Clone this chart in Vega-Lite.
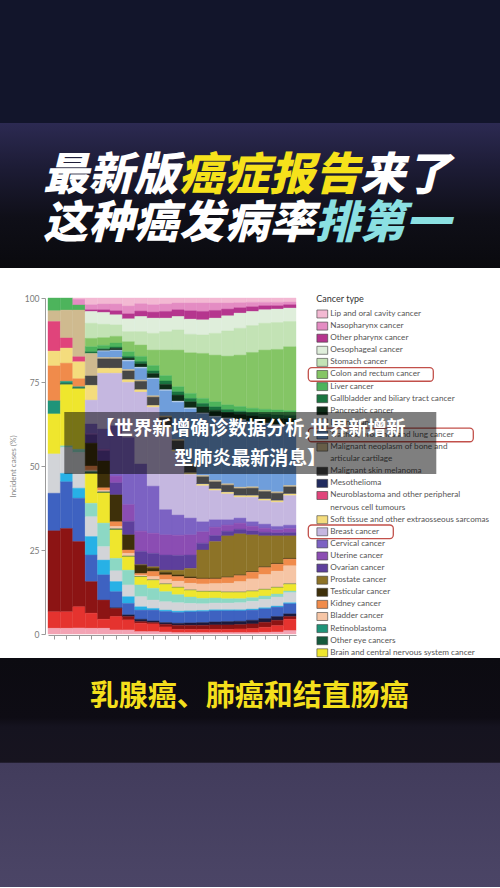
{
  "$schema": "https://vega.github.io/schema/vega-lite/v6.json",
  "background": "#ffffff",
  "padding": 0,
  "spacing": 0,
  "config": {"view": {"stroke": null}, "font": "Lato"},
  "datasets": {
    "headline": [
      {"line": 1, "k": 1, "ch": "最", "tone": "plain"},
      {"line": 1, "k": 2, "ch": "新", "tone": "plain"},
      {"line": 1, "k": 3, "ch": "版", "tone": "plain"},
      {"line": 1, "k": 4, "ch": "癌", "tone": "topic"},
      {"line": 1, "k": 5, "ch": "症", "tone": "topic"},
      {"line": 1, "k": 6, "ch": "报", "tone": "topic"},
      {"line": 1, "k": 7, "ch": "告", "tone": "topic"},
      {"line": 1, "k": 8, "ch": "来", "tone": "plain"},
      {"line": 1, "k": 9, "ch": "了", "tone": "plain"},
      {"line": 2, "k": 1, "ch": "这", "tone": "plain"},
      {"line": 2, "k": 2, "ch": "种", "tone": "plain"},
      {"line": 2, "k": 3, "ch": "癌", "tone": "plain"},
      {"line": 2, "k": 4, "ch": "发", "tone": "plain"},
      {"line": 2, "k": 5, "ch": "病", "tone": "plain"},
      {"line": 2, "k": 6, "ch": "率", "tone": "plain"},
      {"line": 2, "k": 7, "ch": "排", "tone": "rank"},
      {"line": 2, "k": 8, "ch": "第", "tone": "rank"},
      {"line": 2, "k": 9, "ch": "一", "tone": "rank"}
    ],
    "types": [
      {"c": "lip", "idx": 1, "name": "Lip and oral cavity cancer"},
      {"c": "naso", "idx": 2, "name": "Nasopharynx cancer"},
      {"c": "oph", "idx": 3, "name": "Other pharynx cancer"},
      {"c": "oeso", "idx": 4, "name": "Oesophageal cancer"},
      {"c": "stom", "idx": 5, "name": "Stomach cancer"},
      {"c": "colon", "idx": 6, "name": "Colon and rectum cancer", "focus": true},
      {"c": "liver", "idx": 7, "name": "Liver cancer"},
      {"c": "gall", "idx": 8, "name": "Gallbladder and biliary tract cancer"},
      {"c": "panc", "idx": 9, "name": "Pancreatic cancer"},
      {"c": "larynx", "idx": 10, "name": "Larynx cancer"},
      {"c": "lung", "idx": 11, "name": "Trachea, bronchus and lung cancer", "focus": true},
      {"c": "bone", "idx": 12, "name": "Malignant neoplasm of bone and articular cartilage", "l1": "Malignant neoplasm of bone and", "l2": "articular cartilage"},
      {"c": "mel", "idx": 13, "name": "Malignant skin melanoma"},
      {"c": "meso", "idx": 14, "name": "Mesothelioma"},
      {"c": "neuro", "idx": 15, "name": "Neuroblastoma and other peripheral nervous cell tumours", "l1": "Neuroblastoma and other peripheral", "l2": "nervous cell tumours"},
      {"c": "soft", "idx": 16, "name": "Soft tissue and other extraosseous sarcomas"},
      {"c": "breast", "idx": 17, "name": "Breast cancer", "focus": true},
      {"c": "cerv", "idx": 18, "name": "Cervical cancer"},
      {"c": "uter", "idx": 19, "name": "Uterine cancer"},
      {"c": "ovar", "idx": 20, "name": "Ovarian cancer"},
      {"c": "prost", "idx": 21, "name": "Prostate cancer"},
      {"c": "testic", "idx": 22, "name": "Testicular cancer"},
      {"c": "kidney", "idx": 23, "name": "Kidney cancer"},
      {"c": "bladder", "idx": 24, "name": "Bladder cancer"},
      {"c": "retino", "idx": 25, "name": "Retinoblastoma"},
      {"c": "oeye", "idx": 26, "name": "Other eye cancers"},
      {"c": "brain", "idx": 27, "name": "Brain and central nervous system cancer"},
      {"c": "thy", "idx": 28, "name": "Thyroid cancer"},
      {"c": "oth", "idx": 29, "name": "Other malignant neoplasms"},
      {"c": "hod", "idx": 30, "name": "Hodgkin lymphoma"},
      {"c": "nhl", "idx": 31, "name": "Non-Hodgkin lymphoma"},
      {"c": "mm", "idx": 32, "name": "Multiple myeloma"},
      {"c": "leu", "idx": 33, "name": "Leukaemia"},
      {"c": "omn", "idx": 34, "name": "Other neoplasms"},
      {"c": "nmsc", "idx": 35, "name": "Non-melanoma skin cancer"}
    ],
    "ages": [
      {"a": 1, "nmsc": 1.7, "omn": 4.9, "leu": 24.1, "nhl": 11.2, "oth": 11.7, "brain": 11.9, "retino": 3.9, "kidney": 10.4, "soft": 4.4, "neuro": 8.8, "bone": 3.2, "liver": 3.8},
      {"a": 2, "nmsc": 1.7, "omn": 4.9, "leu": 24.8, "nhl": 13.9, "hod": 2.5, "oth": 7.7, "thy": 0.5, "brain": 18.2, "oeye": 0.4, "retino": 0.6, "kidney": 5.4, "soft": 4.5, "neuro": 3, "bone": 8.3, "liver": 3.6},
      {"a": 3, "nmsc": 1.8, "omn": 6.3, "leu": 19.4, "nhl": 12.9, "hod": 3, "oth": 10.6, "thy": 1, "brain": 18, "oeye": 0.3, "retino": 0.3, "kidney": 2.4, "soft": 5, "neuro": 1.5, "bone": 13.9, "liver": 1.5, "naso": 1.7, "lip": 0.4},
      {"a": 4, "nmsc": 1.7, "omn": 4.5, "leu": 9.4, "nhl": 7.9, "hod": 5.5, "oth": 5.9, "thy": 4, "brain": 8.9, "oeye": 0.3, "retino": 0.2, "bladder": 0.5, "kidney": 1.2, "testic": 6.8, "ovar": 2.5, "uter": 0.3, "cerv": 2.9, "breast": 7.1, "soft": 4.4, "mel": 2.8, "bone": 6.7, "gall": 0.5, "liver": 1.5, "colon": 2.5, "stom": 4.5, "oeso": 3.5, "oph": 0.5, "naso": 1.5, "lip": 2},
      {"a": 5, "nmsc": 1.7, "omn": 2.7, "leu": 5.7, "nhl": 7.5, "hod": 4.4, "oth": 4, "thy": 7, "brain": 9, "oeye": 0.3, "bladder": 0.4, "kidney": 0.8, "testic": 8, "ovar": 3, "uter": 0.5, "cerv": 6, "breast": 16.6, "soft": 1.5, "mel": 2.8, "bone": 0.4, "lung": 1.8, "larynx": 0.2, "panc": 0.3, "gall": 0.3, "liver": 1, "colon": 2.3, "stom": 4, "oeso": 3.5, "oph": 0.8, "naso": 1.7, "lip": 1.8},
      {"a": 6, "nmsc": 1.2, "omn": 4, "leu": 2.4, "mm": 0.2, "nhl": 4.8, "hod": 3, "oth": 3.2, "thy": 3.7, "brain": 8.5, "oeye": 0.3, "bladder": 0.7, "kidney": 1.4, "testic": 8, "ovar": 3.6, "uter": 2, "cerv": 15, "breast": 15.6, "soft": 1.5, "mel": 2.8, "bone": 0.4, "lung": 2, "larynx": 0.2, "panc": 0.5, "gall": 0.4, "liver": 1.2, "colon": 2, "stom": 3.4, "oeso": 3, "oph": 1.2, "naso": 2, "lip": 1.8},
      {"a": 7, "nmsc": 1.2, "omn": 3, "leu": 1, "mm": 0.5, "nhl": 3.4, "hod": 2, "oth": 3.5, "thy": 4.4, "brain": 4, "oeye": 0.2, "bladder": 0.8, "kidney": 1, "testic": 4.5, "ovar": 4, "uter": 5, "cerv": 20, "breast": 16.4, "soft": 0.8, "mel": 2.6, "bone": 0.4, "lung": 2.5, "larynx": 0.3, "panc": 0.6, "gall": 0.5, "liver": 1.4, "colon": 3, "stom": 3, "oeso": 3.8, "oph": 1.5, "naso": 2.3, "lip": 2.4},
      {"a": 8, "nmsc": 0.7, "omn": 2.5, "leu": 0.5, "mm": 0.7, "nhl": 2.7, "hod": 1, "oth": 3, "thy": 3.5, "brain": 2.4, "oeye": 0.1, "bladder": 0.4, "kidney": 0.5, "testic": 2.5, "prost": 0.1, "ovar": 4, "uter": 6, "cerv": 20, "breast": 21.4, "soft": 0.7, "mel": 2.5, "bone": 0.4, "lung": 3.5, "larynx": 0.3, "panc": 1, "gall": 0.7, "liver": 1.5, "colon": 3.4, "stom": 4, "oeso": 4.5, "oph": 1.6, "naso": 2.2, "lip": 1.7},
      {"a": 9, "nmsc": 0.7, "omn": 2.3, "leu": 0.4, "mm": 0.5, "nhl": 3.2, "hod": 0.5, "oth": 2.5, "thy": 3.5, "brain": 2.4, "oeye": 0.1, "bladder": 1, "kidney": 1.5, "testic": 1, "prost": 0.4, "ovar": 4, "uter": 6, "cerv": 14, "breast": 23.5, "soft": 0.5, "mel": 2.5, "bone": 0.4, "lung": 5, "larynx": 0.3, "panc": 1.3, "gall": 0.8, "liver": 1.6, "colon": 4.6, "stom": 5, "oeso": 4.5, "oph": 1.8, "naso": 2.2, "lip": 2},
      {"a": 10, "nmsc": 0.6, "omn": 1.5, "leu": 0.8, "mm": 0.5, "nhl": 3.3, "hod": 0.4, "oth": 2.5, "thy": 3, "brain": 2.2, "oeye": 0.1, "bladder": 1.3, "kidney": 1.4, "testic": 0.7, "prost": 0.7, "ovar": 4.5, "uter": 6, "cerv": 7.5, "breast": 24.3, "soft": 0.5, "meso": 0.2, "mel": 2.5, "bone": 0.4, "lung": 7.5, "larynx": 0.3, "panc": 1.6, "gall": 1, "liver": 1.6, "colon": 7.6, "stom": 5.5, "oeso": 4, "oph": 2, "naso": 2.2, "lip": 1.8},
      {"a": 11, "nmsc": 0.4, "omn": 1, "leu": 1.2, "mm": 0.6, "nhl": 3.2, "hod": 0.4, "oth": 2.5, "thy": 2.4, "brain": 2.1, "oeye": 0.1, "bladder": 1.8, "kidney": 1.4, "testic": 0.5, "prost": 1.4, "ovar": 4.4, "uter": 6, "cerv": 6, "breast": 18.9, "soft": 0.5, "meso": 0.2, "mel": 2.5, "bone": 0.4, "lung": 11.1, "larynx": 0.3, "panc": 1.8, "gall": 1, "liver": 1.5, "colon": 10.9, "stom": 6, "oeso": 4, "oph": 2, "naso": 2, "lip": 1.5},
      {"a": 12, "nmsc": 0.4, "omn": 1, "leu": 1.2, "mm": 0.7, "nhl": 3.3, "hod": 0.3, "oth": 2.2, "thy": 1.9, "brain": 2, "oeye": 0.1, "bladder": 2, "kidney": 1.5, "testic": 0.4, "prost": 2.5, "ovar": 4, "uter": 6, "cerv": 5, "breast": 13, "soft": 0.5, "meso": 0.2, "mel": 2.1, "bone": 0.4, "lung": 16.3, "larynx": 0.3, "panc": 1.8, "gall": 1, "liver": 1.5, "colon": 12.1, "stom": 5.5, "oeso": 4.5, "oph": 2.5, "naso": 2.3, "lip": 1.5},
      {"a": 13, "nmsc": 0.4, "omn": 1, "leu": 1.2, "mm": 0.8, "nhl": 3.3, "hod": 0.3, "oth": 2, "thy": 1.6, "brain": 2, "oeye": 0.1, "bladder": 2.2, "kidney": 1.5, "testic": 0.2, "prost": 8.4, "ovar": 2, "uter": 3.4, "cerv": 3, "breast": 10.7, "soft": 0.5, "meso": 0.2, "mel": 2, "bone": 0.4, "lung": 18.3, "larynx": 0.3, "panc": 1.8, "gall": 1, "liver": 1.5, "colon": 13.4, "stom": 5.5, "oeso": 4.5, "oph": 2.5, "naso": 2.5, "lip": 1.5},
      {"a": 14, "nmsc": 0.4, "omn": 1, "leu": 1.3, "mm": 0.9, "nhl": 3.3, "hod": 0.3, "oth": 2, "thy": 1.5, "brain": 1.9, "oeye": 0.1, "bladder": 2.3, "kidney": 1.4, "testic": 0.2, "prost": 10.9, "ovar": 1.8, "uter": 2.5, "cerv": 2.2, "breast": 8.7, "soft": 0.5, "meso": 0.2, "mel": 1.9, "bone": 0.4, "lung": 18.8, "larynx": 0.3, "panc": 1.8, "gall": 1, "liver": 1.5, "colon": 13.9, "stom": 6.5, "oeso": 4.5, "oph": 2.3, "naso": 2.2, "lip": 1.5},
      {"a": 15, "nmsc": 0.4, "omn": 1, "leu": 1.3, "mm": 1, "nhl": 3.2, "hod": 0.3, "oth": 2, "thy": 1.3, "brain": 1.9, "oeye": 0.1, "bladder": 2.6, "kidney": 1.7, "testic": 0.2, "prost": 12.2, "ovar": 1.4, "uter": 1.8, "cerv": 1.6, "breast": 7.7, "soft": 0.5, "meso": 0.2, "mel": 1.9, "bone": 0.4, "lung": 19.3, "larynx": 0.3, "panc": 1.6, "gall": 0.9, "liver": 1.4, "colon": 14.5, "stom": 7.5, "oeso": 4.5, "oph": 2, "naso": 1.8, "lip": 1.5},
      {"a": 16, "nmsc": 0.4, "omn": 1.1, "leu": 1.3, "mm": 1, "nhl": 3.1, "hod": 0.3, "oth": 2.1, "thy": 1.2, "brain": 1.9, "oeye": 0.1, "bladder": 3.1, "kidney": 1.8, "testic": 0.2, "prost": 12.2, "ovar": 1.4, "uter": 1.8, "cerv": 1.5, "breast": 6.2, "soft": 0.5, "meso": 0.2, "mel": 1.9, "bone": 0.4, "lung": 19.8, "larynx": 0.3, "panc": 1.6, "gall": 0.9, "liver": 1.4, "colon": 15.3, "stom": 8, "oeso": 4.5, "oph": 1.6, "naso": 1.5, "lip": 1.4},
      {"a": 17, "nmsc": 0.4, "omn": 1.2, "leu": 1.4, "mm": 1.1, "nhl": 3, "hod": 0.3, "oth": 2.3, "thy": 1.1, "brain": 1.9, "oeye": 0.1, "bladder": 3.6, "kidney": 2, "testic": 0.2, "prost": 10.9, "ovar": 1.2, "uter": 1.4, "cerv": 1.3, "breast": 7.3, "soft": 0.5, "meso": 0.2, "mel": 2, "bone": 0.4, "lung": 19.2, "larynx": 0.3, "panc": 1.6, "gall": 0.9, "liver": 1.4, "colon": 16.6, "stom": 8, "oeso": 4.2, "oph": 1.4, "naso": 1.3, "lip": 1.3},
      {"a": 18, "nmsc": 0.5, "omn": 1.5, "leu": 1.5, "mm": 1.1, "nhl": 2.9, "hod": 0.3, "oth": 2.5, "thy": 1, "brain": 1.9, "oeye": 0.1, "bladder": 4.4, "kidney": 2.1, "testic": 0.2, "prost": 9.2, "ovar": 1.1, "uter": 1.2, "cerv": 1.2, "breast": 7, "soft": 0.5, "meso": 0.2, "mel": 2, "bone": 0.4, "lung": 19.7, "larynx": 0.3, "panc": 1.7, "gall": 1, "liver": 1.4, "colon": 17.6, "stom": 8, "oeso": 4, "oph": 1.2, "naso": 1, "lip": 1.3},
      {"a": 19, "nmsc": 0.6, "omn": 1.9, "leu": 1.6, "mm": 1.1, "nhl": 2.8, "hod": 0.3, "oth": 2.7, "thy": 0.9, "brain": 1.9, "oeye": 0.1, "bladder": 4.8, "kidney": 2.1, "testic": 0.2, "prost": 8.2, "ovar": 0.9, "uter": 0.9, "cerv": 1, "breast": 7.2, "soft": 0.5, "meso": 0.2, "mel": 2, "bone": 0.4, "lung": 19.7, "larynx": 0.3, "panc": 1.8, "gall": 1.1, "liver": 1.5, "colon": 18, "stom": 8, "oeso": 4, "oph": 1, "naso": 1, "lip": 1.3},
      {"a": 20, "nmsc": 1, "omn": 3.4, "leu": 0.8, "mm": 0.8, "nhl": 3, "hod": 0.3, "oth": 3, "thy": 0.5, "brain": 2, "oeye": 0.1, "bladder": 5.4, "kidney": 2, "testic": 0.2, "prost": 6.7, "ovar": 1, "uter": 1.2, "cerv": 1, "breast": 8.8, "soft": 0.5, "meso": 0.2, "mel": 1.9, "bone": 0.4, "lung": 17.8, "larynx": 0.3, "panc": 1.8, "gall": 1, "liver": 1.4, "colon": 19, "stom": 7.5, "oeso": 4, "oph": 1, "naso": 0.8, "lip": 1.2}
    ]
  },
  "vconcat": [
    {
      "width": 452,
      "height": 123,
      "data": {"values": [{}]},
      "mark": {"type": "rect", "color": "#12152b"},
      "encoding": {
        "x": {"value": -48},
        "x2": {"value": "width"},
        "y": {"value": 0},
        "y2": {"value": "height"}
      }
    },
    {
      "spacing": 26,
      "vconcat": [
        {
          "width": 452,
          "height": 145,
          "layer": [
            {
              "data": {"values": [{}]},
              "mark": {"type": "rect", "color": {"gradient": "linear", "x1": 0, "y1": 0, "x2": 0, "y2": 1, "stops": [
                {"offset": 0, "color": "#2c2a52"},
                {"offset": 0.3, "color": "#1d1c36"},
                {"offset": 0.65, "color": "#0f0f18"},
                {"offset": 1, "color": "#0a0a0e"}
              ]}},
              "encoding": {
                "x": {"value": -48},
                "x2": {"value": "width"},
                "y": {"value": 0},
                "y2": {"value": "height"}
              }
            },
            {
              "data": {"name": "headline"},
              "mark": {"type": "text", "fontSize": 45, "fontWeight": 900, "fontStyle": "italic", "font": "Noto Sans CJK SC", "baseline": "middle", "align": "center"},
              "encoding": {
                "x": {"field": "k", "type": "ordinal", "scale": {"type": "point", "padding": 0.99, "align": 0.195}, "axis": null},
                "y": {"field": "line", "type": "ordinal", "scale": {"type": "point", "padding": 1, "align": 0.544}, "axis": null},
                "text": {"field": "ch"},
                "fill": {"field": "tone", "type": "nominal", "scale": {"domain": ["plain", "topic", "rank"], "range": ["#ffffff", "#f6e21b", "#8be0e2"]}, "legend": null}
              }
            }
          ]
        },
        {
          "bounds": "flush",
          "spacing": 12.3,
          "hconcat": [
            {
              "width": 248,
              "height": 336,
              "data": {"name": "ages"},
              "transform": [
                {"fold": ["lip","naso","oph","oeso","stom","colon","liver","gall","panc","larynx","lung","bone","mel","meso","neuro","soft","breast","cerv","uter","ovar","prost","testic","kidney","bladder","retino","oeye","brain","thy","oth","hod","nhl","mm","leu","omn","nmsc"], "as": ["c", "v"]},
                {"filter": "isValid(datum.v) && datum.v > 0"},
                {"lookup": "c", "from": {"data": {"name": "types"}, "key": "c", "fields": ["idx"]}}
              ],
              "mark": {"type": "bar", "strokeWidth": 0.4},
              "encoding": {
                "x": {"field": "a", "type": "ordinal", "scale": {"paddingInner": 0, "paddingOuter": 0},
                  "axis": {"labels": false, "title": null, "tickSize": 4, "tickColor": "#9a9a9a", "domainColor": "#9a9a9a", "offset": 1, "grid": false}},
                "y": {"field": "v", "type": "quantitative", "stack": "normalize", "scale": {"domain": [0, 1], "nice": false},
                  "axis": {"values": [0, 0.25, 0.5, 0.75, 1], "labelExpr": "format(datum.value * 100, 'd')", "title": "Incident cases (%)",
                    "titleFontSize": 8, "titleFontWeight": "normal", "titleColor": "#8a8a8a", "titlePadding": 7,
                    "labelFontSize": 8.5, "labelColor": "#7a7a7a", "labelPadding": 2, "tickSize": 4, "tickColor": "#9a9a9a",
                    "domainColor": "#9a9a9a", "offset": 3, "grid": false}},
                "color": {"field": "c", "type": "nominal", "legend": null, "scale": {
                  "domain": ["lip","naso","oph","oeso","stom","colon","liver","gall","panc","larynx","lung","bone","mel","meso","neuro","soft","breast","cerv","uter","ovar","prost","testic","kidney","bladder","retino","oeye","brain","thy","oth","hod","nhl","mm","leu","omn","nmsc"],
                  "range": ["#f3b9d3","#e48cc3","#b5358e","#dfeedb","#c3e3b5","#84c565","#4db45c","#1a7540","#0e2c17","#c4daf0","#6f9edb","#cfba8f","#474747","#202a5e","#e0447b","#f4dc7d","#c5b7e0","#7c62c3","#8b4db3","#5d3f9c","#8d7327","#3e300a","#f08b4b","#f6c5a5","#1f9479","#14593c","#efe62d","#8cd8c4","#d2d4d8","#27b1e6","#3e62c1","#1c1b3d","#8c1414","#e5332f","#f3a3b4"]}},
                "stroke": {"field": "c", "type": "nominal", "legend": null, "scale": {
                  "domain": ["lip","naso","oph","oeso","stom","colon","liver","gall","panc","larynx","lung","bone","mel","meso","neuro","soft","breast","cerv","uter","ovar","prost","testic","kidney","bladder","retino","oeye","brain","thy","oth","hod","nhl","mm","leu","omn","nmsc"],
                  "range": ["#f3b9d3","#e48cc3","#b5358e","#dfeedb","#c3e3b5","#84c565","#4db45c","#1a7540","#0e2c17","#c4daf0","#6f9edb","#cfba8f","#474747","#202a5e","#e0447b","#f4dc7d","#c5b7e0","#7c62c3","#8b4db3","#5d3f9c","#8d7327","#3e300a","#f08b4b","#f6c5a5","#1f9479","#14593c","#efe62d","#8cd8c4","#d2d4d8","#27b1e6","#3e62c1","#1c1b3d","#8c1414","#e5332f","#f3a3b4"]}},
                "order": {"field": "idx", "type": "quantitative", "sort": "descending"}
              }
            },
            {
              "width": 190,
              "height": 360,
              "data": {"name": "types"},
              "transform": [
                {"filter": "datum.idx <= 27"},
                {"calculate": "datum.l2 ? 2 : 1", "as": "nl"},
                {"window": [{"op": "sum", "field": "nl", "as": "cum"}], "sort": [{"field": "idx", "order": "ascending"}]},
                {"calculate": "datum.cum - datum.nl", "as": "ln"},
                {"calculate": "datum.l1 ? datum.l1 : datum.name", "as": "t1"}
              ],
              "layer": [
                {
                  "transform": [
                    {"filter": "datum.focus"},
                    {"calculate": "datum.ln - 0.56", "as": "b0"},
                    {"calculate": "datum.ln + 0.56", "as": "b1"},
                    {"calculate": "33 + 4 * length(datum.t1)", "as": "bw"}
                  ],
                  "mark": {"type": "rect", "filled": false, "stroke": "#c2504a", "strokeWidth": 1.3, "cornerRadius": 3.5},
                  "encoding": {
                    "x": {"field": "bw", "type": "quantitative", "scale": {"domain": [0, 190], "nice": false, "zero": false}, "axis": null},
                    "x2": {"datum": 0},
                    "y": {"field": "b0", "type": "quantitative", "scale": {"domain": [-1.322, 28.43], "reverse": true, "nice": false, "zero": false}, "axis": null},
                    "y2": {"field": "b1"}
                  }
                },
                {
                  "mark": {"type": "point", "shape": "M-1.35,-1H1.35V1H-1.35Z", "size": 64, "filled": true, "stroke": "#3c3c3c", "strokeWidth": 0.6, "opacity": 1},
                  "encoding": {
                    "x": {"datum": 14, "type": "quantitative", "scale": {"domain": [0, 190], "nice": false, "zero": false}, "axis": null},
                    "y": {"field": "ln", "type": "quantitative", "scale": {"domain": [-1.322, 28.43], "reverse": true, "nice": false, "zero": false}, "axis": null},
                    "color": {"field": "c", "type": "nominal", "legend": null, "scale": {
                      "domain": ["lip","naso","oph","oeso","stom","colon","liver","gall","panc","larynx","lung","bone","mel","meso","neuro","soft","breast","cerv","uter","ovar","prost","testic","kidney","bladder","retino","oeye","brain","thy","oth","hod","nhl","mm","leu","omn","nmsc"],
                      "range": ["#f3b9d3","#e48cc3","#b5358e","#dfeedb","#c3e3b5","#84c565","#4db45c","#1a7540","#0e2c17","#c4daf0","#6f9edb","#cfba8f","#474747","#202a5e","#e0447b","#f4dc7d","#c5b7e0","#7c62c3","#8b4db3","#5d3f9c","#8d7327","#3e300a","#f08b4b","#f6c5a5","#1f9479","#14593c","#efe62d","#8cd8c4","#d2d4d8","#27b1e6","#3e62c1","#1c1b3d","#8c1414","#e5332f","#f3a3b4"]}}
                  }
                },
                {
                  "mark": {"type": "text", "align": "left", "baseline": "middle", "fontSize": 8.2, "color": "#555555", "limit": 168, "font": "Lato"},
                  "encoding": {
                    "x": {"datum": 22, "type": "quantitative", "scale": {"domain": [0, 190], "nice": false, "zero": false}, "axis": null},
                    "y": {"field": "ln", "type": "quantitative", "scale": {"domain": [-1.322, 28.43], "reverse": true, "nice": false, "zero": false}, "axis": null},
                    "text": {"field": "t1"}
                  }
                },
                {
                  "transform": [{"filter": "datum.l2"}, {"calculate": "datum.ln + 1", "as": "ln2"}],
                  "mark": {"type": "text", "align": "left", "baseline": "middle", "fontSize": 8.2, "color": "#555555", "limit": 168, "font": "Lato"},
                  "encoding": {
                    "x": {"datum": 22, "type": "quantitative", "scale": {"domain": [0, 190], "nice": false, "zero": false}, "axis": null},
                    "y": {"field": "ln2", "type": "quantitative", "scale": {"domain": [-1.322, 28.43], "reverse": true, "nice": false, "zero": false}, "axis": null},
                    "text": {"field": "l2"}
                  }
                },
                {
                  "data": {"values": [{"t": "Cancer type"}]},
                  "mark": {"type": "text", "align": "left", "baseline": "middle", "fontSize": 9, "color": "#333333", "font": "Lato"},
                  "encoding": {
                    "x": {"datum": 8, "type": "quantitative", "scale": {"domain": [0, 190], "nice": false, "zero": false}, "axis": null},
                    "y": {"datum": -1.24, "type": "quantitative", "scale": {"domain": [-1.322, 28.43], "reverse": true, "nice": false, "zero": false}, "axis": null},
                    "text": {"field": "t"}
                  }
                },
                {
                  "data": {"values": [{}]},
                  "mark": {"type": "rect", "color": "#000000", "opacity": 0.5},
                  "encoding": {
                    "x": {"datum": -244, "type": "quantitative", "scale": {"domain": [0, 190], "nice": false, "zero": false}, "axis": null},
                    "x2": {"datum": 128},
                    "y": {"datum": 8.1, "type": "quantitative", "scale": {"domain": [-1.322, 28.43], "reverse": true, "nice": false, "zero": false}, "axis": null},
                    "y2": {"datum": 13.22}
                  }
                },
                {
                  "data": {"values": [{}]},
                  "mark": {"type": "text", "text": ["【世界新增确诊数据分析,世界新增新", "型肺炎最新消息】"], "align": "center", "baseline": "top", "fontSize": 19, "fontWeight": "bold", "color": "#ffffff", "font": "Noto Sans CJK SC", "lineHeight": 30},
                  "encoding": {
                    "x": {"datum": -58, "type": "quantitative", "scale": {"domain": [0, 190], "nice": false, "zero": false}, "axis": null},
                    "y": {"datum": 8.76, "type": "quantitative", "scale": {"domain": [-1.322, 28.43], "reverse": true, "nice": false, "zero": false}, "axis": null}
                  }
                }
              ]
            }
          ]
        }
      ]
    },
    {
      "width": 452,
      "height": 229,
      "layer": [
        {
          "data": {"values": [{}]},
          "mark": {"type": "rect", "color": {"gradient": "linear", "x1": 0, "y1": 0, "x2": 0, "y2": 1, "stops": [
            {"offset": 0, "color": "#0c0b11"},
            {"offset": 0.26, "color": "#0e0c14"},
            {"offset": 0.3, "color": "#15131f"},
            {"offset": 0.455, "color": "#17141f"},
            {"offset": 0.46, "color": "#423c5c"},
            {"offset": 1, "color": "#4b4566"}
          ]}},
          "encoding": {
            "x": {"value": -48},
            "x2": {"value": "width"},
            "y": {"value": 0},
            "y2": {"value": "height"}
          }
        },
        {
          "data": {"values": [{"t": "乳腺癌、肺癌和结直肠癌"}]},
          "mark": {"type": "text", "fontSize": 29, "fontWeight": "bold", "color": "#f4df1c", "font": "Noto Sans CJK SC", "baseline": "middle", "align": "center"},
          "encoding": {
            "text": {"field": "t"},
            "x": {"field": "t", "type": "nominal", "scale": {"type": "point", "align": 0.445}, "axis": null},
            "y": {"field": "t", "type": "nominal", "scale": {"type": "point", "align": 0.172}, "axis": null}
          }
        }
      ]
    }
  ]
}
